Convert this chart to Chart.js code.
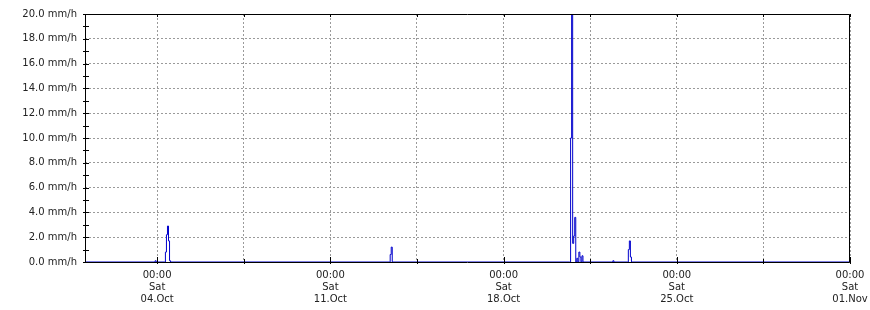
<!DOCTYPE html>
<html>
<head>
<meta charset="utf-8">
<script src="https://cdn.jsdelivr.net/npm/chart.js@4/dist/chart.umd.min.js"></script>
<style>
  html, body { margin: 0; padding: 0; background: #fff; }
  #wrap { width: 870px; height: 310px; }
</style>
</head>
<body>
<div id="wrap"><canvas id="rainChart"></canvas></div>
<script>
// hours since 01.Oct 00:00 and rain rate (mm/h)
const hours = [2, 69, 70, 71, 79, 80, 81, 82, 83, 84, 85,
               297, 298, 299, 300,
               472, 473, 474, 475, 476, 477, 478, 479, 480, 481, 482, 483, 484, 485,
               513, 514, 515, 528, 529, 530, 531, 532, 744];
const rainRate = [0, 0, 0.1, 0, 0, 0.8, 2.2, 2.9, 1.7, 0.1, 0,
                  0, 0.6, 1.2, 0,
                  0, 10.0, 24.0, 1.5, 2.1, 3.6, 0, 0.3, 0, 0.8, 0.4, 0, 0.5, 0,
                  0, 0.1, 0, 0, 1.0, 1.7, 0.4, 0, 0];

// x ticks every 3.5 days, labels only on the weekly ones
const xTicks = [72, 156, 240, 324, 408, 492, 576, 660, 744];
const xTickLabels = {
  72:  ['00:00', 'Sat', '04.Oct'],
  240: ['00:00', 'Sat', '11.Oct'],
  408: ['00:00', 'Sat', '18.Oct'],
  576: ['00:00', 'Sat', '25.Oct'],
  744: ['00:00', 'Sat', '01.Nov']
};
const yMin = 0, yMax = 20, yStep = 1;

const points = hours.map((h, i) => ({ x: h, y: rainRate[i] }));

// frame + little inside tick marks, like the rrd style graph
const frameTicks = {
  id: 'frameTicks',
  afterDatasetsDraw(chart) {
    const { ctx, chartArea: a, scales } = chart;
    ctx.save();
    ctx.strokeStyle = '#000';
    ctx.lineWidth = 1;
    ctx.beginPath();
    ctx.rect(a.left + 0.5, a.top + 0.5, a.right - a.left - 1, a.bottom - a.top);
    ctx.stroke();
    ctx.beginPath();
    scales.y.ticks.forEach(t => {
      const y = Math.round(scales.y.getPixelForValue(t.value)) + 0.5;
      ctx.moveTo(a.left - 2, y);
      ctx.lineTo(a.left + 4, y);
    });
    xTicks.forEach(v => {
      const x = Math.round(scales.x.getPixelForValue(v)) + 0.5;
      const len = xTickLabels[v] ? 5 : 3;
      ctx.moveTo(x, a.bottom + 2);
      ctx.lineTo(x, a.bottom - len);
      ctx.moveTo(x, a.top);
      ctx.lineTo(x, a.top + 3);
    });
    ctx.stroke();
    ctx.restore();
  }
};

new Chart(document.getElementById('rainChart'), {
  type: 'line',
  data: {
    datasets: [{
      data: points,
      borderColor: '#0000cc',
      borderWidth: 1,
      pointRadius: 0,
      stepped: true,
      fill: false
    }]
  },
  options: {
    responsive: true,
    maintainAspectRatio: false,
    animation: false,
    layout: { padding: { top: 13, right: 0, left: 0, bottom: 0 } },
    plugins: {
      legend: { display: false },
      tooltip: { enabled: false }
    },
    scales: {
      x: {
        type: 'linear',
        min: 2,
        max: 744,
        afterBuildTicks: scale => { scale.ticks = xTicks.map(v => ({ value: v })); },
        afterFit: scale => {
          scale.height = 48;
          scale.paddingLeft = 0;
          scale.paddingRight = 20;
        },
        grid: { color: '#9a9a9a', drawTicks: false, lineWidth: 1 },
        border: { display: false, dash: [2, 2] },
        ticks: {
          autoSkip: false,
          maxRotation: 0,
          padding: 7,
          color: '#222',
          font: { family: 'DejaVu Sans', size: 10 },
          callback: v => xTickLabels[v] || ''
        }
      },
      y: {
        min: yMin,
        max: yMax,
        afterFit: scale => { scale.width = 85; },
        grid: {
          drawTicks: false,
          lineWidth: 1,
          color: ctx => (ctx.tick && ctx.tick.value % 2 === 0) ? '#9a9a9a' : 'rgba(0,0,0,0)'
        },
        border: { display: false, dash: [2, 2] },
        ticks: {
          stepSize: yStep,
          autoSkip: false,
          padding: 8,
          color: '#222',
          font: { family: 'DejaVu Sans', size: 10 },
          callback: v => (v % 2 === 0) ? v.toFixed(1) + ' mm/h' : ''
        }
      }
    }
  },
  plugins: [frameTicks]
});
</script>
</body>
</html>
